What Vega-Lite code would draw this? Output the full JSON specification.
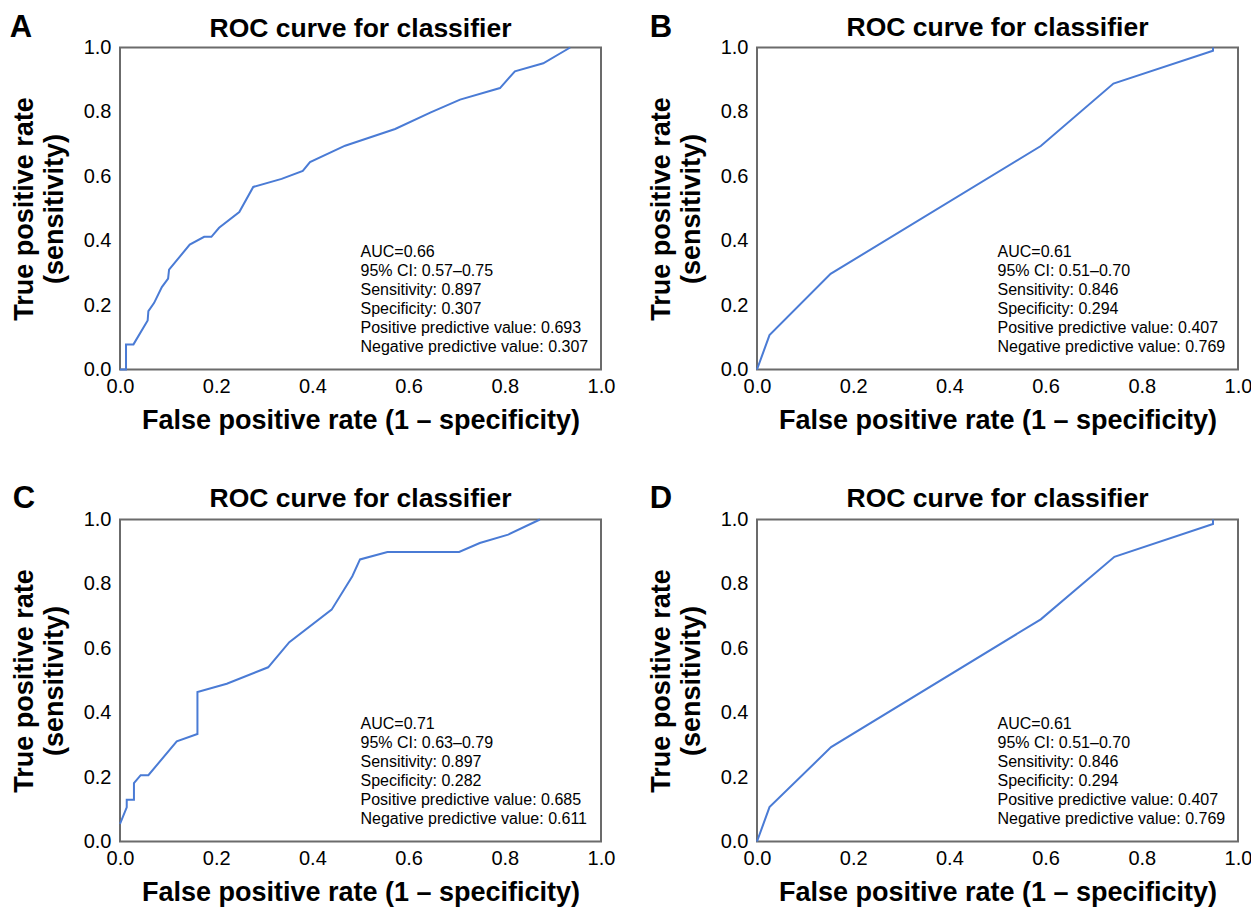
{
  "$schema": "https://vega.github.io/schema/vega-lite/v6.json",
  "padding": {"left": 8, "top": 10.5, "right": 0, "bottom": 0},
  "config": {
    "font": "Liberation Sans",
    "view": {"stroke": "#6b6b6b", "strokeWidth": 2},
    "axis": {"grid": false, "ticks": false, "domain": false, "labelFontSize": 20, "labelColor": "#000", "titleFontSize": 27, "titleFontWeight": "bold", "titleColor": "#000", "labelFont": "Liberation Sans", "titleFont": "Liberation Sans"},
    "axisX": {"labelPadding": 7, "titlePadding": 11, "labelFlush": false},
    "axisY": {"labelPadding": 9, "titlePadding": 15, "titleLineHeight": 30},
    "title": {"fontSize": 26.5, "fontWeight": "bold", "color": "#000", "anchor": "middle", "frame": "group", "offset": -30, "font": "Liberation Sans"},
    "line": {"color": "#4a7bd5", "strokeWidth": 2}
  },
  "columns": 2,
  "spacing": {"row": 150, "column": 156},
  "bounds": "flush",
  "concat": [
    {
      "width": 481, "height": 322,
      "title": "ROC curve for classifier",
      "layer": [
        {
          "data": {"values": [
            {"fpr": 0, "tpr": 0}, {"fpr": 0.0125, "tpr": 0}, {"fpr": 0.0125, "tpr": 0.078}, {"fpr": 0.028, "tpr": 0.078},
            {"fpr": 0.0575, "tpr": 0.152}, {"fpr": 0.059, "tpr": 0.181}, {"fpr": 0.071, "tpr": 0.207}, {"fpr": 0.087, "tpr": 0.256},
            {"fpr": 0.1, "tpr": 0.282}, {"fpr": 0.102, "tpr": 0.31}, {"fpr": 0.145, "tpr": 0.388}, {"fpr": 0.175, "tpr": 0.412},
            {"fpr": 0.19, "tpr": 0.412}, {"fpr": 0.206, "tpr": 0.44}, {"fpr": 0.248, "tpr": 0.489}, {"fpr": 0.277, "tpr": 0.567},
            {"fpr": 0.336, "tpr": 0.592}, {"fpr": 0.38, "tpr": 0.617}, {"fpr": 0.395, "tpr": 0.644}, {"fpr": 0.468, "tpr": 0.695},
            {"fpr": 0.572, "tpr": 0.747}, {"fpr": 0.645, "tpr": 0.798}, {"fpr": 0.707, "tpr": 0.838}, {"fpr": 0.79, "tpr": 0.874},
            {"fpr": 0.821, "tpr": 0.926}, {"fpr": 0.88, "tpr": 0.951}, {"fpr": 0.936, "tpr": 1.0}
          ]},
          "mark": {"type": "line"},
          "encoding": {
            "x": {"field": "fpr", "type": "quantitative", "scale": {"domain": [0, 1]}, "axis": {"title": "False positive rate (1 – specificity)", "values": [0, 0.2, 0.4, 0.6, 0.8, 1], "format": ".1f"}},
            "y": {"field": "tpr", "type": "quantitative", "scale": {"domain": [0, 1]}, "axis": {"title": ["True positive rate", "(sensitivity)"], "values": [0, 0.2, 0.4, 0.6, 0.8, 1], "format": ".1f"}},
            "order": {"value": null}
          }
        },
        {
          "data": {"values": [{"note": "AUC=0.66\n95% CI: 0.57–0.75\nSensitivity: 0.897\nSpecificity: 0.307\nPositive predictive value: 0.693\nNegative predictive value: 0.307"}]},
          "mark": {"type": "text", "align": "left", "baseline": "alphabetic", "fontSize": 16, "lineHeight": 19, "lineBreak": "\n", "color": "#000"},
          "encoding": {
            "x": {"datum": 0.5, "type": "quantitative", "scale": {"domain": [0, 1]}},
            "y": {"datum": 0.35, "type": "quantitative", "scale": {"domain": [0, 1]}},
            "text": {"field": "note"}
          }
        },
        {
          "data": {"values": [{"letter": "A"}]},
          "mark": {"type": "text", "align": "left", "baseline": "alphabetic", "fontSize": 31, "fontWeight": "bold", "color": "#000"},
          "encoding": {
            "x": {"datum": -0.229, "type": "quantitative", "scale": {"domain": [0, 1]}},
            "y": {"datum": 1.032, "type": "quantitative", "scale": {"domain": [0, 1]}},
            "text": {"field": "letter"}
          }
        }
      ]
    },
    {
      "width": 481, "height": 322,
      "title": "ROC curve for classifier",
      "layer": [
        {
          "data": {"values": [
            {"fpr": 0, "tpr": 0}, {"fpr": 0.026, "tpr": 0.107}, {"fpr": 0.153, "tpr": 0.297}, {"fpr": 0.59, "tpr": 0.694},
            {"fpr": 0.741, "tpr": 0.888}, {"fpr": 0.948, "tpr": 0.99}, {"fpr": 0.948, "tpr": 1.0}
          ]},
          "mark": {"type": "line"},
          "encoding": {
            "x": {"field": "fpr", "type": "quantitative", "scale": {"domain": [0, 1]}, "axis": {"title": "False positive rate (1 – specificity)", "values": [0, 0.2, 0.4, 0.6, 0.8, 1], "format": ".1f"}},
            "y": {"field": "tpr", "type": "quantitative", "scale": {"domain": [0, 1]}, "axis": {"title": ["True positive rate", "(sensitivity)"], "values": [0, 0.2, 0.4, 0.6, 0.8, 1], "format": ".1f"}},
            "order": {"value": null}
          }
        },
        {
          "data": {"values": [{"note": "AUC=0.61\n95% CI: 0.51–0.70\nSensitivity: 0.846\nSpecificity: 0.294\nPositive predictive value: 0.407\nNegative predictive value: 0.769"}]},
          "mark": {"type": "text", "align": "left", "baseline": "alphabetic", "fontSize": 16, "lineHeight": 19, "lineBreak": "\n", "color": "#000"},
          "encoding": {
            "x": {"datum": 0.5, "type": "quantitative", "scale": {"domain": [0, 1]}},
            "y": {"datum": 0.35, "type": "quantitative", "scale": {"domain": [0, 1]}},
            "text": {"field": "note"}
          }
        },
        {
          "data": {"values": [{"letter": "B"}]},
          "mark": {"type": "text", "align": "left", "baseline": "alphabetic", "fontSize": 31, "fontWeight": "bold", "color": "#000"},
          "encoding": {
            "x": {"datum": -0.223, "type": "quantitative", "scale": {"domain": [0, 1]}},
            "y": {"datum": 1.034, "type": "quantitative", "scale": {"domain": [0, 1]}},
            "text": {"field": "letter"}
          }
        }
      ]
    },
    {
      "width": 481, "height": 322,
      "title": "ROC curve for classifier",
      "layer": [
        {
          "data": {"values": [
            {"fpr": 0, "tpr": 0.055}, {"fpr": 0.014, "tpr": 0.106}, {"fpr": 0.014, "tpr": 0.13}, {"fpr": 0.029, "tpr": 0.13},
            {"fpr": 0.029, "tpr": 0.181}, {"fpr": 0.043, "tpr": 0.206}, {"fpr": 0.059, "tpr": 0.206}, {"fpr": 0.118, "tpr": 0.311},
            {"fpr": 0.161, "tpr": 0.334}, {"fpr": 0.161, "tpr": 0.464}, {"fpr": 0.222, "tpr": 0.49}, {"fpr": 0.308, "tpr": 0.541},
            {"fpr": 0.352, "tpr": 0.619}, {"fpr": 0.44, "tpr": 0.72}, {"fpr": 0.483, "tpr": 0.824}, {"fpr": 0.499, "tpr": 0.876},
            {"fpr": 0.556, "tpr": 0.899}, {"fpr": 0.705, "tpr": 0.899}, {"fpr": 0.748, "tpr": 0.927}, {"fpr": 0.807, "tpr": 0.953},
            {"fpr": 0.873, "tpr": 1.0}
          ]},
          "mark": {"type": "line"},
          "encoding": {
            "x": {"field": "fpr", "type": "quantitative", "scale": {"domain": [0, 1]}, "axis": {"title": "False positive rate (1 – specificity)", "values": [0, 0.2, 0.4, 0.6, 0.8, 1], "format": ".1f"}},
            "y": {"field": "tpr", "type": "quantitative", "scale": {"domain": [0, 1]}, "axis": {"title": ["True positive rate", "(sensitivity)"], "values": [0, 0.2, 0.4, 0.6, 0.8, 1], "format": ".1f"}},
            "order": {"value": null}
          }
        },
        {
          "data": {"values": [{"note": "AUC=0.71\n95% CI: 0.63–0.79\nSensitivity: 0.897\nSpecificity: 0.282\nPositive predictive value: 0.685\nNegative predictive value: 0.611"}]},
          "mark": {"type": "text", "align": "left", "baseline": "alphabetic", "fontSize": 16, "lineHeight": 19, "lineBreak": "\n", "color": "#000"},
          "encoding": {
            "x": {"datum": 0.5, "type": "quantitative", "scale": {"domain": [0, 1]}},
            "y": {"datum": 0.35, "type": "quantitative", "scale": {"domain": [0, 1]}},
            "text": {"field": "note"}
          }
        },
        {
          "data": {"values": [{"letter": "C"}]},
          "mark": {"type": "text", "align": "left", "baseline": "alphabetic", "fontSize": 31, "fontWeight": "bold", "color": "#000"},
          "encoding": {
            "x": {"datum": -0.223, "type": "quantitative", "scale": {"domain": [0, 1]}},
            "y": {"datum": 1.036, "type": "quantitative", "scale": {"domain": [0, 1]}},
            "text": {"field": "letter"}
          }
        }
      ]
    },
    {
      "width": 481, "height": 322,
      "title": "ROC curve for classifier",
      "layer": [
        {
          "data": {"values": [
            {"fpr": 0, "tpr": 0}, {"fpr": 0.026, "tpr": 0.107}, {"fpr": 0.154, "tpr": 0.293}, {"fpr": 0.59, "tpr": 0.69},
            {"fpr": 0.743, "tpr": 0.884}, {"fpr": 0.948, "tpr": 0.986}, {"fpr": 0.948, "tpr": 1.0}
          ]},
          "mark": {"type": "line"},
          "encoding": {
            "x": {"field": "fpr", "type": "quantitative", "scale": {"domain": [0, 1]}, "axis": {"title": "False positive rate (1 – specificity)", "values": [0, 0.2, 0.4, 0.6, 0.8, 1], "format": ".1f"}},
            "y": {"field": "tpr", "type": "quantitative", "scale": {"domain": [0, 1]}, "axis": {"title": ["True positive rate", "(sensitivity)"], "values": [0, 0.2, 0.4, 0.6, 0.8, 1], "format": ".1f"}},
            "order": {"value": null}
          }
        },
        {
          "data": {"values": [{"note": "AUC=0.61\n95% CI: 0.51–0.70\nSensitivity: 0.846\nSpecificity: 0.294\nPositive predictive value: 0.407\nNegative predictive value: 0.769"}]},
          "mark": {"type": "text", "align": "left", "baseline": "alphabetic", "fontSize": 16, "lineHeight": 19, "lineBreak": "\n", "color": "#000"},
          "encoding": {
            "x": {"datum": 0.5, "type": "quantitative", "scale": {"domain": [0, 1]}},
            "y": {"datum": 0.35, "type": "quantitative", "scale": {"domain": [0, 1]}},
            "text": {"field": "note"}
          }
        },
        {
          "data": {"values": [{"letter": "D"}]},
          "mark": {"type": "text", "align": "left", "baseline": "alphabetic", "fontSize": 31, "fontWeight": "bold", "color": "#000"},
          "encoding": {
            "x": {"datum": -0.223, "type": "quantitative", "scale": {"domain": [0, 1]}},
            "y": {"datum": 1.036, "type": "quantitative", "scale": {"domain": [0, 1]}},
            "text": {"field": "letter"}
          }
        }
      ]
    }
  ]
}
